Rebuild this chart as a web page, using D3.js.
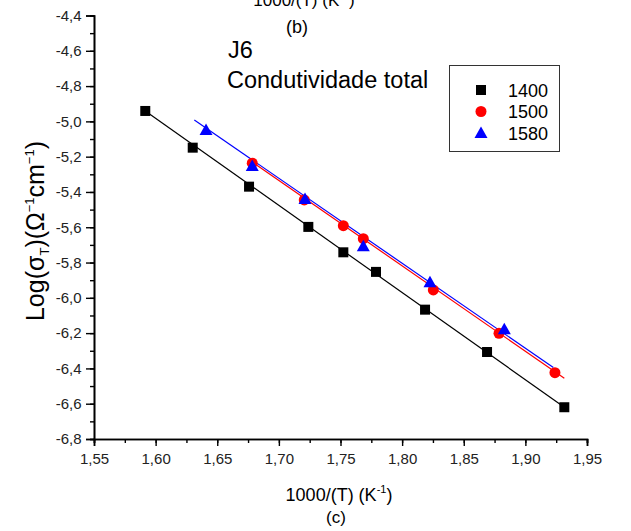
<!DOCTYPE html>
<html><head><meta charset="utf-8">
<script src="https://cdn.jsdelivr.net/npm/d3@7"></script>
<style>body{margin:0;background:#fff}svg{display:block;font-family:"Liberation Sans",Arial,sans-serif}</style>
</head><body><svg id="c" width="631" height="531"></svg>
<script>
const seriesNames = ["1400", "1500", "1580"];
const colors = ["#000000", "#ff0000", "#0000ff"];
const symbols = ["square", "circle", "triangle"];
const x1400 = [1.5916, 1.6301, 1.6758, 1.7239, 1.7523, 1.7788, 1.8186, 1.8689, 1.9316];
const y1400 = [-4.941, -5.149, -5.370, -5.598, -5.742, -5.853, -6.067, -6.307, -6.620];
const x1500 = [1.6784, 1.7206, 1.7523, 1.7685, 1.8253, 1.8786, 1.9240];
const y1500 = [-5.237, -5.445, -5.591, -5.665, -5.955, -6.201, -6.424];
const x1580 = [1.6409, 1.6784, 1.7212, 1.7685, 1.8226, 1.8829];
const y1580 = [-5.049, -5.253, -5.440, -5.708, -5.912, -6.178];
// linear fit lines: [xStart, yStart, xEnd, yEnd]
const fit1400 = [1.5916, -4.941, 1.9316, -6.620];
const fit1500 = [1.6780, -5.228, 1.9316, -6.456];
const fit1580 = [1.6314, -4.992, 1.9227, -6.395];
const xTicks = [1.55, 1.60, 1.65, 1.70, 1.75, 1.80, 1.85, 1.90, 1.95];
const yTicks = [-4.4, -4.6, -4.8, -5.0, -5.2, -5.4, -5.6, -5.8, -6.0, -6.2, -6.4, -6.6, -6.8];

const xs = [x1400, x1500, x1580], ys = [y1400, y1500, y1580], fits = [fit1400, fit1500, fit1580];
const svg = d3.select("#c");
const x = d3.scaleLinear().domain([1.55, 1.95]).range([94, 587]);
const y = d3.scaleLinear().domain([-6.8, -4.4]).range([439, 15.5]);
const fmt = d => d3.format(".2f")(d).replace(".", ",");
const fmtY = d => d.toFixed(1).replace(".", ",");

// axes
const xMinor = d3.range(1.55, 1.9501, 0.025);
const yMinor = d3.range(-6.8, -4.3999, 0.1);
const gx = svg.append("g").attr("transform", "translate(0,439)");
gx.call(d3.axisBottom(x).tickValues(xMinor).tickSize(4).tickFormat(""));
gx.call(g => g.append("g").call(d3.axisBottom(x).tickValues(xTicks).tickSize(7).tickFormat(fmt)));
const gy = svg.append("g").attr("transform", "translate(94,0)");
gy.call(d3.axisLeft(y).tickValues(yMinor).tickSize(4).tickFormat(""));
gy.call(g => g.append("g").call(d3.axisLeft(y).tickValues(yTicks).tickSize(8).tickFormat(fmtY)));
svg.selectAll(".domain").attr("stroke", "#000").attr("stroke-width", 1.6);
svg.selectAll(".tick line").attr("stroke", "#000").attr("stroke-width", 1.4);
gx.selectAll(".tick text").attr("font-size", 15).attr("font-family", "Liberation Sans, Arial").attr("fill", "#222").attr("dy", "1.0em");
gy.selectAll(".tick text").attr("font-size", 15).attr("font-family", "Liberation Sans, Arial").attr("fill", "#222").attr("dx", "-0.1em");

// fit lines
fits.forEach((f, i) => {
  svg.append("line").attr("x1", x(f[0])).attr("y1", y(f[1])).attr("x2", x(f[2])).attr("y2", y(f[3]))
    .attr("stroke", colors[i]).attr("stroke-width", 1.2);
});

function marker(g, type, color) {
  if (type === "square") g.append("rect").attr("x", -5).attr("y", -5).attr("width", 10).attr("height", 10).attr("fill", color);
  else if (type === "circle") g.append("circle").attr("r", 5.5).attr("fill", color);
  else g.append("path").attr("d", "M0,-6.5L6.5,5L-6.5,5Z").attr("fill", color);
}
xs.forEach((xa, i) => {
  xa.forEach((xv, j) => {
    const g = svg.append("g").attr("transform", `translate(${x(xv)},${y(ys[i][j])})`);
    marker(g, symbols[i], colors[i]);
  });
});

// legend
svg.append("rect").attr("x", 449.5).attr("y", 65.5).attr("width", 110).attr("height", 86).attr("fill", "none").attr("stroke", "#333").attr("stroke-width", 1);
const rowY = [90, 111.5, 133];
seriesNames.forEach((n, i) => {
  const g = svg.append("g").attr("transform", `translate(481,${rowY[i]})`);
  marker(g, symbols[i], colors[i]);
  svg.append("text").attr("x", 508).attr("y", rowY[i] + 6.5).attr("font-size", 18).text(n);
});

// annotations
svg.append("text").attr("x", 228).attr("y", 58).attr("font-size", 23.5).text("J6");
svg.append("text").attr("x", 227).attr("y", 88).attr("font-size", 23.5).text("Condutividade total");

// top cut-off title
const t1 = svg.append("text").attr("x", 304).attr("y", 6).attr("text-anchor", "middle").attr("font-size", 17);
t1.append("tspan").text("1000/(T) (K");
t1.append("tspan").attr("font-size", 11).attr("dy", -7).text("-1");
t1.append("tspan").attr("dy", 7).text(")");
svg.append("text").attr("x", 297).attr("y", 33).attr("text-anchor", "middle").attr("font-size", 18).text("(b)");

// x title
const t2 = svg.append("text").attr("x", 339).attr("y", 501).attr("text-anchor", "middle").attr("font-size", 18);
t2.append("tspan").text("1000/(T) (K");
t2.append("tspan").attr("font-size", 11).attr("dy", -8).text("-1");
t2.append("tspan").attr("dy", 8).text(")");
svg.append("text").attr("x", 336).attr("y", 523).attr("text-anchor", "middle").attr("font-size", 17).text("(c)");

// y title
const t3 = svg.append("text").attr("transform", "translate(44,231) rotate(-90)").attr("text-anchor", "middle").attr("font-size", 25);
t3.append("tspan").text("Log(σ");
t3.append("tspan").attr("font-size", 13).attr("dy", 5).text("T");
t3.append("tspan").attr("dy", -5).text(")(Ω");
t3.append("tspan").attr("font-size", 13).attr("dy", -10).text("−1");
t3.append("tspan").attr("dy", 10).text("cm");
t3.append("tspan").attr("font-size", 13).attr("dy", -10).text("−1");
t3.append("tspan").attr("dy", 10).text(")");
</script></body></html>
